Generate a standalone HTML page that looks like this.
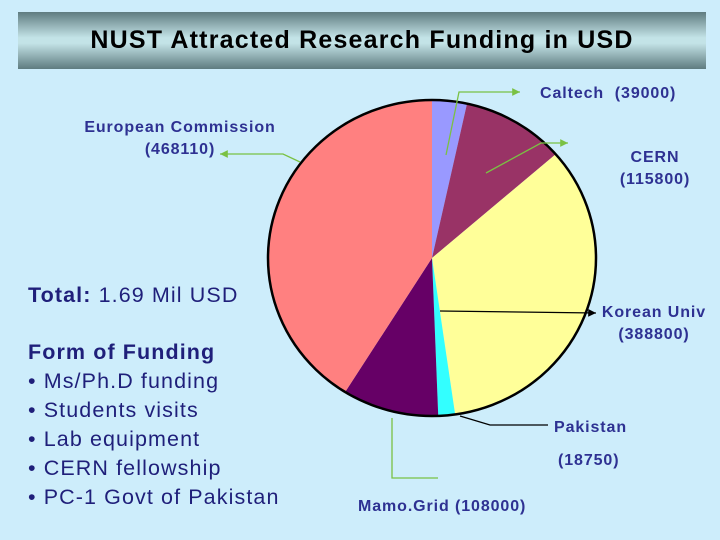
<!DOCTYPE html>
<html><head><meta charset="utf-8"><style>
body{margin:0;width:720px;height:540px;background:#cdedfb;font-family:"Liberation Sans",sans-serif;overflow:hidden;position:relative}
.t{position:absolute;left:18px;top:12px;width:688px;height:57px;background:linear-gradient(#5f7c80,#c3e3e7 45%,#c3e3e7 55%,#5f7c80);display:flex;align-items:center;justify-content:center;font-weight:bold;font-size:25px;letter-spacing:1.2px;color:#000}
.lbl{position:absolute;color:#2e3192;font-weight:bold;font-size:16px;letter-spacing:0.9px;text-align:center;line-height:22px;white-space:nowrap}
.side{position:absolute;left:28px;color:#1f1f7a;font-size:21.5px;letter-spacing:1.1px;line-height:29px}
</style></head><body>
<div class="t">NUST Attracted Research Funding in USD</div>
<svg width="720" height="540" style="position:absolute;left:0;top:0">
<defs>
<marker id="ag" markerWidth="8" markerHeight="8" refX="6" refY="3" orient="auto"><path d="M0,0L6,3L0,6z" fill="#7ac143"/></marker>
<marker id="ab" markerWidth="8" markerHeight="8" refX="6" refY="3" orient="auto"><path d="M0,0L6,3L0,6z" fill="#000"/></marker>
</defs>
<g id="slices"></g>
<g fill="none" stroke-width="1.3">
<polyline points="446,155 459,92 520,92" stroke="#7ac143" marker-end="url(#ag)"/>
<polyline points="486,173 541,143 568,143" stroke="#7ac143" marker-end="url(#ag)"/>
<polyline points="300,162 283,154 220,154" stroke="#7ac143" marker-end="url(#ag)"/>
<polyline points="440,311 596,313" stroke="#000" marker-end="url(#ab)"/>
<polyline points="460,416 490,425 548,425" stroke="#000"/>
<polyline points="392,418 392,478 438,478" stroke="#7ac143"/>
</g>
</svg>
<div class="lbl" style="left:540px;top:83px">Caltech&nbsp; (39000)</div>
<div class="lbl" style="left:70px;top:117px;width:220px">European Commission<br>(468110)</div>
<div class="lbl" style="left:605px;top:147px;width:100px">CERN<br>(115800)</div>
<div class="lbl" style="left:594px;top:302px;width:120px">Korean Univ<br>(388800)</div>
<div class="lbl" style="left:554px;top:417px">Pakistan</div>
<div class="lbl" style="left:558px;top:450px">(18750)</div>
<div class="lbl" style="left:358px;top:496px">Mamo.Grid (108000)</div>
<div class="side" style="top:281px"><b>Total:</b> 1.69 Mil USD</div>
<div class="side" style="top:338px"><b>Form of Funding</b><br>• Ms/Ph.D funding<br>• Students visits<br>• Lab equipment<br>• CERN fellowship<br>• PC-1 Govt of Pakistan</div>
<script>
const categories=["Caltech","CERN","Korean Univ","Pakistan","Mamo.Grid","European Commission"];
const values=[39000,115800,388800,18750,108000,468110];
const colors=["#9999ff","#993366","#ffff99","#33ffff","#660066","#ff8080"];
const cx=432,cy=258,rx=164,ry=158;
const g=document.getElementById('slices');
const tot=values.reduce((a,b)=>a+b,0);
let a=0;
values.forEach((v,i)=>{
 const a2=a+v/tot*2*Math.PI;
 const p=t=>[cx+rx*Math.sin(t),cy-ry*Math.cos(t)];
 const [x1,y1]=p(a),[x2,y2]=p(a2);
 const path=document.createElementNS('http://www.w3.org/2000/svg','path');
 path.setAttribute('d',`M${cx},${cy}L${x1},${y1}A${rx},${ry} 0 ${a2-a>Math.PI?1:0} 1 ${x2},${y2}Z`);
 path.setAttribute('fill',colors[i]);
 
 
 g.appendChild(path);
 a=a2;
});
const o=document.createElementNS('http://www.w3.org/2000/svg','ellipse');
o.setAttribute('cx',cx);o.setAttribute('cy',cy);o.setAttribute('rx',rx);o.setAttribute('ry',ry);
o.setAttribute('fill','none');o.setAttribute('stroke','#000');o.setAttribute('stroke-width','2.5');


g.appendChild(o);
</script>
</body></html>
